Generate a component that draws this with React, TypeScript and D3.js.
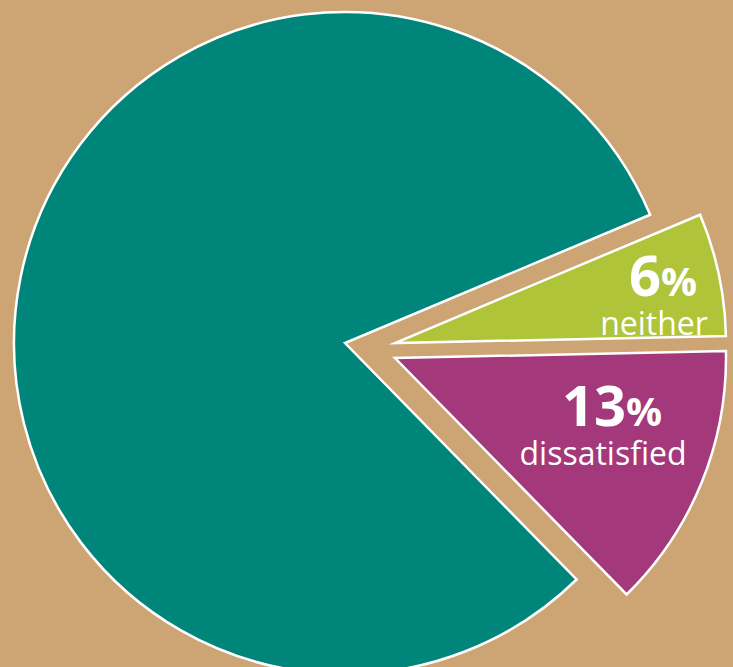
import React from "react";
import * as d3 from "d3";

const categories = ["neither", "dissatisfied", "satisfied"];
const values = [6, 13, 81];
const colors = ["#B0C43A", "#A3397A", "#00857A"];
const showLabel = [true, true, false];

const W = 733;
const H = 667;
const CX = 345;
const CY = 343;
const R = 331;
const START_DEG = 67.2;
// explode translation of each slice (layout)
const EXPLODE: [number, number][] = [
  [50, 0],
  [50, 15],
  [0, 0],
];
// percentage label baseline-centre relative to slice centre (layout)
const LABEL_POS: [number, number][] = [
  [268, -47],
  [217, 68],
  [0, 0],
];

type Row = { cat: string; value: number; color: string; i: number };

export default function App() {
  const rows: Row[] = categories.map((c, i) => ({ cat: c, value: values[i], color: colors[i], i }));
  const start = (START_DEG * Math.PI) / 180;
  const pie = d3
    .pie<Row>()
    .sort(null)
    .value((d) => d.value)
    .startAngle(start)
    .endAngle(start + Math.PI * 2);
  const arcs = pie(rows);
  const arc = d3.arc<d3.PieArcDatum<Row>>().innerRadius(0).outerRadius(R);
  const font = "'Open Sans', 'Noto Sans', sans-serif";

  return (
    <svg
      width={W}
      height={H}
      style={{ position: "absolute", left: 0, top: 0, display: "block" }}
    >
      <rect x={0} y={0} width={W} height={H} fill="#CDA575" />
      {arcs.map((a, k) => {
        const [dx, dy] = EXPLODE[k];
        return (
          <g key={a.data.cat} transform={`translate(${CX + dx},${CY + dy})`}>
            <path
              d={arc(a) || ""}
              fill={a.data.color}
              stroke="#FFFFFF"
              strokeWidth={2.5}
              strokeLinejoin="miter"
              strokeMiterlimit={20}
            />
          </g>
        );
      })}
      {arcs.map((a, k) => {
        if (!showLabel[k]) return null;
        const [dx, dy] = EXPLODE[k];
        const [lx, ly] = LABEL_POS[k];
        const x = CX + dx + lx;
        const y = CY + dy + ly;
        return (
          <g key={"l" + a.data.cat} fontFamily={font} fill="#FFFFFF" textAnchor="middle">
            <text x={x} y={y} fontWeight={700} fontSize={56}>
              {a.data.value}
              <tspan fontSize={40}>%</tspan>
            </text>
            <text x={x - 9} y={y + 39} fontSize={32}>
              {a.data.cat}
            </text>
          </g>
        );
      })}
    </svg>
  );
}
